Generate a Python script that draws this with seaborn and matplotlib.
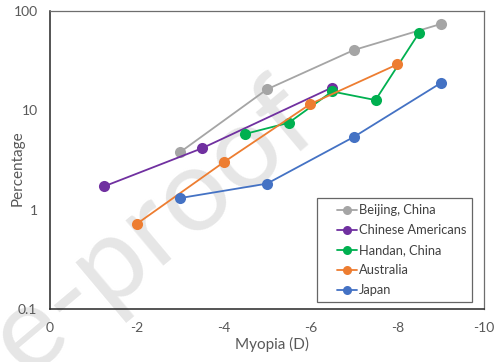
import matplotlib
matplotlib.use("Agg")
import matplotlib.pyplot as plt
import seaborn as sns
import pandas as pd
from matplotlib.lines import Line2D
from matplotlib.legend_handler import HandlerLine2D
from matplotlib.ticker import FixedLocator, FixedFormatter, NullLocator

# Myopia prevalence (%) by spherical equivalent threshold (D)
beijing_x = [-3, -5, -7, -9]
beijing_y = [3.8, 16.3, 40.5, 74]

chinese_am_x = [-1.25, -3.5, -6.5]
chinese_am_y = [1.72, 4.15, 17.0]

handan_x = [-4.5, -5.5, -6.5, -7.5, -8.5]
handan_y = [5.8, 7.5, 15.5, 12.7, 60]

australia_x = [-2, -4, -6, -8]
australia_y = [0.72, 3.0, 11.6, 29]

japan_x = [-3, -5, -7, -9]
japan_y = [1.31, 1.83, 5.4, 18.8]

series_names = ["Beijing, China", "Chinese Americans", "Handan, China", "Australia", "Japan"]
series_colors = ["#A5A5A5", "#7030A0", "#00B050", "#ED7D31", "#4472C4"]

x_ticks = [0, -2, -4, -6, -8, -10]
x_tick_labels = ["0", "-2", "-4", "-6", "-8", "-10"]
y_ticks = [0.1, 1, 10, 100]
y_tick_labels = ["0.1", "1", "10", "100"]

frames = []
for name, xs, ys in zip(series_names,
                        [beijing_x, chinese_am_x, handan_x, australia_x, japan_x],
                        [beijing_y, chinese_am_y, handan_y, australia_y, japan_y]):
    frames.append(pd.DataFrame({"Myopia": xs, "Percentage": ys, "Group": name}))
df = pd.concat(frames, ignore_index=True)

sns.set_theme(style="white")
plt.rcParams["font.family"] = ["Lato", "DejaVu Sans"]

fig = plt.figure(figsize=(5.0, 3.62), dpi=100)
fig.patch.set_facecolor("white")
ax = fig.add_axes([0.100, 0.1464, 0.868, 0.823])
ax.set_facecolor("none")

# Watermark behind the data
fig.text(0.646, 0.635, "Journal Pre-proof", fontsize=84, color="#E6E6E6",
         rotation=40, rotation_mode="anchor", ha="right", va="baseline",
         zorder=-1)

sns.lineplot(data=df, x="Myopia", y="Percentage", hue="Group",
             hue_order=series_names, palette=series_colors,
             marker="o", markersize=8, markeredgewidth=0,
             linewidth=1.3, sort=False, estimator=None, ax=ax)

ax.set_yscale("log")
ax.set_ylim(0.1, 100)
ax.set_xlim(0, -10)

ax.yaxis.set_major_locator(FixedLocator(y_ticks))
ax.yaxis.set_major_formatter(FixedFormatter(y_tick_labels))
ax.yaxis.set_minor_locator(NullLocator())
ax.xaxis.set_major_locator(FixedLocator(x_ticks))
ax.xaxis.set_major_formatter(FixedFormatter(x_tick_labels))

ax.tick_params(axis="both", length=0, labelsize=10, colors="#595959")
ax.tick_params(axis="x", pad=9)
ax.tick_params(axis="y", pad=9)

ax.set_xlabel("Myopia (D)", fontsize=11, color="#595959")
ax.set_ylabel("Percentage", fontsize=11, color="#595959")
ax.xaxis.set_label_coords(0.511, -0.095)
ax.yaxis.set_label_coords(-0.058, 0.473)

for side in ["left", "bottom"]:
    ax.spines[side].set_color("#262626")
    ax.spines[side].set_linewidth(1.1)
for side in ["top", "right"]:
    ax.spines[side].set_color("#6E6E6E")
    ax.spines[side].set_linewidth(0.9)

leg = ax.legend(loc="lower right", bbox_to_anchor=(0.972, 0.0235),
                frameon=True, fancybox=False, fontsize=9.3,
                handlelength=2.7, handletextpad=0.1, labelspacing=0.62,
                borderpad=0.45, borderaxespad=0, labelcolor="#404040",
                handler_map={Line2D: HandlerLine2D(xpad=1.1)})
leg.get_frame().set_edgecolor("#404040")
leg.get_frame().set_linewidth(0.9)
for h in leg.legend_handles:
    h.set_markersize(6.5)

fig.savefig("out.png", dpi=100)
